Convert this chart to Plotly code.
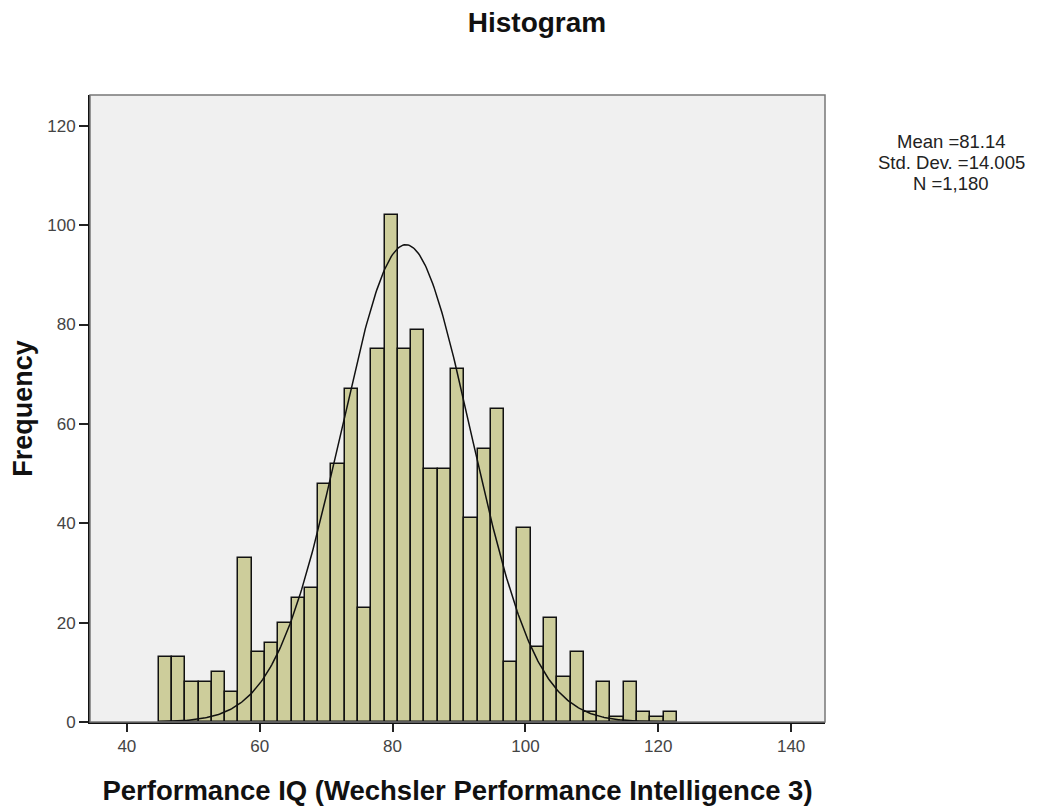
import numpy as np
import plotly.graph_objects as go

# ---- data ----
bin_start = 44.8
bin_width = 2.0
counts = [13, 13, 8, 8, 10, 6, 33, 14, 16, 20, 25, 27, 48, 52, 67, 23, 75, 102,
          75, 79, 51, 51, 71, 41, 55, 63, 12, 39, 15, 21, 9, 14, 2, 8, 1, 8, 2, 1, 2]
stats_text = ["Mean =81.14", "Std. Dev. =14.005", "N =1,180"]
n_total = 1180
curve_mean = 82.0   # as drawn in the picture
curve_sd = 9.8      # as drawn in the picture
x_ticks = [40, 60, 80, 100, 120, 140]
y_ticks = [0, 20, 40, 60, 80, 100, 120]

centers = [bin_start + bin_width * (i + 0.5) for i in range(len(counts))]

xc = np.linspace(bin_start, bin_start + bin_width * len(counts), 400)
yc = n_total * bin_width / (curve_sd * np.sqrt(2 * np.pi)) * np.exp(-0.5 * ((xc - curve_mean) / curve_sd) ** 2)

W, H = 1030, 798   # page adds an 8px body margin
L, R, T, B = 82, 213, 87, 84
PW, PH = W - L - R, H - T - B

fig = go.Figure()
fig.add_trace(go.Bar(x=centers, y=counts, width=bin_width,
                     marker=dict(color="#cdcd9b", line=dict(color="#111111", width=1.5)),
                     hoverinfo="x+y"))
fig.add_trace(go.Scatter(x=xc, y=yc, mode="lines", line=dict(color="#111111", width=1.5),
                         hoverinfo="skip"))

font_family = "Liberation Sans, Arial, sans-serif"
fig.update_layout(
    width=W, height=H,
    margin=dict(l=L, r=R, t=T, b=B, autoexpand=False),
    paper_bgcolor="white", plot_bgcolor="#f0f0f0",
    showlegend=False, bargap=0,
    font=dict(family=font_family, color="#333333", size=17),
    title=dict(text="<b>Histogram</b>", x=(537 - 8) / W, xanchor="center", xref="container",
               y=1 - (22 - 8) / H, yanchor="middle", yref="container",
               font=dict(size=28, color="#111111", family=font_family)),
    xaxis=dict(range=[34.45, 145.1], tickvals=x_ticks, ticks="outside", ticklen=8,
               tickcolor="#222222", tickwidth=1.5, showgrid=False, zeroline=False,
               showline=True, linecolor="#111111", linewidth=2, automargin=False,
               tickfont=dict(size=17, color="#444444"),
               title=dict(text="<b>Performance IQ (Wechsler Performance Intelligence 3)</b>",
                          font=dict(size=27.5, color="#111111"), standoff=26)),
    yaxis=dict(range=[0, 126.2], tickvals=y_ticks, ticks="outside", ticklen=9,
               tickcolor="#222222", tickwidth=1.5, showgrid=False, zeroline=False,
               showline=True, linecolor="#111111", linewidth=2, automargin=False,
               tickfont=dict(size=17, color="#444444"),
               title=dict(text="<b>Frequency</b>", font=dict(size=27, color="#111111"), standoff=18)),
)
fig.add_shape(type="rect", xref="paper", yref="paper", x0=0, x1=1, y0=0, y1=1,
              line=dict(color="#777777", width=1.5), layer="above")
for i, line in enumerate(stats_text):
    fig.add_annotation(text=line, xref="paper", yref="paper",
                       x=1 + (951 - 825) / PW, y=1 - (141.7 + 20.8 * i - 95) / PH,
                       xanchor="center", yanchor="middle", showarrow=False,
                       font=dict(size=18.5, color="#222222", family=font_family))

fig.write_html("out.html")
